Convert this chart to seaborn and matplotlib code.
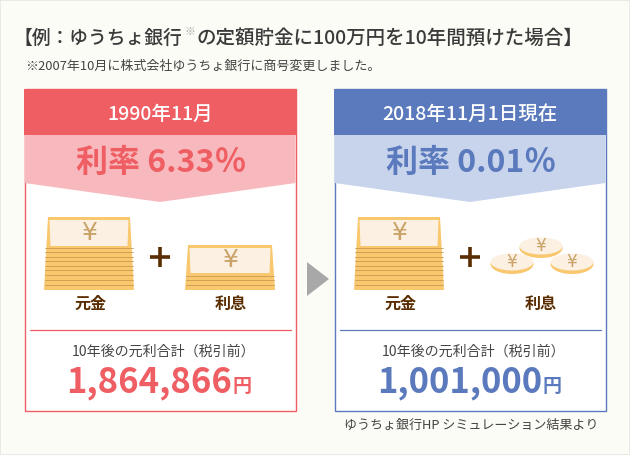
import matplotlib
matplotlib.use("Agg")
import matplotlib.pyplot as plt
from matplotlib.patches import Polygon, Rectangle, Ellipse
import seaborn as sns

dates = ["1990年11月", "2018年11月1日現在"]
rates = ["利率 6.33％", "利率 0.01％"]
totals = ["1,864,866", "1,001,000"]
principal_label = "元金"
interest_label = "利息"
total_caption = "10年後の元利合計（税引前）"
title_a = "【例：ゆうちょ銀行"
title_mark = "※"
title_b = "の定額貯金に100万円を10年間預けた場合】"
subtitle = "※2007年10月に株式会社ゆうちょ銀行に商号変更しました。"
source = "ゆうちょ銀行HP シミュレーション結果より"

main_cols = sns.color_palette(["#EE5E63", "#5B7ABD"])
light_cols = sns.color_palette(["#F7B9BD", "#C8D4EB"])
GOLD, CARD, YEN, BROWN, INK = "#F9C76E", "#FBF0E2", "#C9A368", "#5A2D00", "#3F3F3F"
JP = ["Noto Sans CJK JP", "DejaVu Sans"]

sns.set_theme(style="white")
plt.rcParams["font.family"] = JP

fig = plt.figure(figsize=(6.3, 4.55), dpi=100, facecolor="#FCFCF7")
ax = fig.add_axes([0, 0, 1, 1])
ax.set_xlim(0, 630)
ax.set_ylim(455, 0)
ax.axis("off")


def px(v):
    return v * 0.72


def label(x, y, s, size, color=INK, weight="normal", ha="center"):
    return ax.text(x, y, s, fontsize=px(size), color=color, fontweight=weight,
                   ha=ha, va="center")


def stack(x0, x1, inset, top, lines, card_bottom):
    ax.add_patch(Polygon([(x0 + inset, top), (x1 - inset, top), (x1, 290), (x0, 290)],
                         fc=GOLD, ec="none", zorder=2))
    ax.add_patch(Polygon([(x0 + inset + 1.5, top + 3), (x1 - inset - 1.5, top + 3),
                          (x1 - inset - 2.5, card_bottom), (x0 + inset + 2.5, card_bottom)],
                         fc=CARD, ec="none", zorder=3))
    for ly in lines:
        ax.plot([x0 + 1, x1 - 1], [ly, ly], color="#C9994F", lw=0.6, zorder=3)
    ax.text((x0 + x1) / 2, (top + card_bottom) / 2 + 1, "¥", fontsize=px(25), color=YEN,
            ha="center", va="center", zorder=4, family="DejaVu Sans")


def coin(cx, cy):
    ax.add_patch(Ellipse((cx, cy + 2), 43, 20, fc=GOLD, ec="none", zorder=2))
    ax.add_patch(Ellipse((cx, cy), 43, 17, fc=CARD, ec="none", zorder=3))
    ax.text(cx, cy, "¥", fontsize=px(17), color=YEN, ha="center", va="center",
            zorder=4, family="DejaVu Sans")


# frame
ax.add_patch(Rectangle((0, 0), 630, 455, fc="none", ec="#E6E6E2", lw=1.2, zorder=1))

# heading
label(14, 37.5, title_a, 18.8, ha="left", weight="medium", color="#3A3A3A")
label(184, 32, title_mark, 11, ha="left", color="#A8A8A8")
label(197, 37.5, title_b, 19.5, ha="left", weight="medium", color="#3A3A3A")
label(25, 66, subtitle, 13, ha="left", color="#444444")

# panels
big_lines = [247.7, 252.3, 256.7, 261, 265.7, 270, 275, 280, 285]
small_lines = [275.7, 280.3, 285]
for i, off in enumerate([0, 310]):
    L, R = 24.5 + off, 295.5 + off
    c = (L + R) / 2
    col, lite = main_cols[i], light_cols[i]
    ax.add_patch(Rectangle((L, 89), R - L, 321.5, fc="white", ec=col, lw=1.0, zorder=1))
    ax.add_patch(Polygon([(L, 135), (R, 135), (R, 183), (c, 202), (L, 183)],
                         fc=lite, ec="none", zorder=2))
    ax.add_patch(Rectangle((L - .5, 89), R - L + 1, 46, fc=col, ec="none", zorder=2))
    t = label(c, 114, dates[i], 19.5, color="white", weight="medium")
    t.set_zorder(5)
    t = label(c + 1, 163, rates[i], 32, color=col, weight="bold")
    t.set_zorder(5)

    stack(44 + off, 134 + off, 4, 217, big_lines, 246)
    ax.plot([150 + off, 170 + off], [257, 257], color=BROWN, lw=2.6, solid_capstyle="butt")
    ax.plot([160 + off, 160 + off], [247, 267], color=BROWN, lw=2.6, solid_capstyle="butt")
    label(90 + off, 304, principal_label, 16, color=BROWN, weight="bold")
    label(231 + off, 304, interest_label, 16, color=BROWN, weight="bold")
    ax.plot([30 + off, 291 + off], [330, 330], color=col, lw=0.9)
    label(164 + off, 352, total_caption, 14, color="#444444")
    label(232 + off, 383, totals[i], 34.7, color=col, weight="bold", ha="right")
    label(232 + off, 386, "円", 19, color=col, weight="bold", ha="left")

stack(185, 275, 3, 245, small_lines, 273)
coin(512, 262)
coin(572, 262)
coin(541, 246)

# arrow
ax.add_patch(Polygon([(307, 262), (329, 279), (307, 296)], fc="#A8A8A8", ec="none"))

# source
label(471, 425, source, 13, color="#444444")

fig.savefig("out.png", dpi=100, facecolor=fig.get_facecolor())
